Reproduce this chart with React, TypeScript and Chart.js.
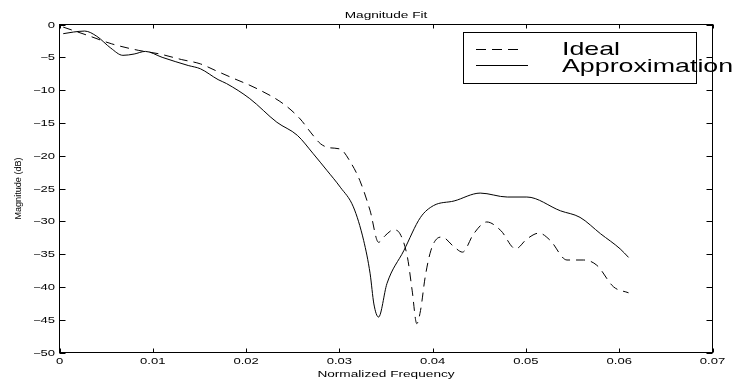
import { useEffect, useRef } from "react";
import { Chart, registerables } from "chart.js";

Chart.register(...registerables);

// ---- data ----
const idealFreq = [
  0.0004, 0.0031, 0.0056, 0.0085, 0.0106, 0.0131, 0.0151, 0.0167, 0.0183, 0.0212,
  0.024, 0.0258, 0.0269, 0.028, 0.029, 0.0301, 0.0312, 0.0322, 0.0333, 0.0342,
  0.0349, 0.0358, 0.0365, 0.0373, 0.0378, 0.0383, 0.0387, 0.0392, 0.0398, 0.0405,
  0.041, 0.0423, 0.0432, 0.0444, 0.0458, 0.0473, 0.0489, 0.0501, 0.0514, 0.0526,
  0.0544, 0.0562, 0.0576, 0.0594, 0.061,
];
const idealMag = [
  -0.4, -1.7, -2.95, -3.95, -4.45, -5.35, -6.0, -7.0, -8.0, -9.8,
  -12.1, -14.4, -16.4, -18.2, -18.8, -19.0, -21.0, -23.8, -28.4, -33.2,
  -32.2, -31.3, -31.9, -35.5, -40.5, -45.6, -43.6, -38.5, -34.5, -32.6,
  -32.4, -33.9, -34.7, -31.9, -30.1, -31.4, -34.2, -32.7, -31.8, -32.9,
  -35.9, -35.9, -36.7, -40.0, -40.9,
];
const approxFreq = [
  0.0004, 0.0015, 0.0027, 0.004, 0.0055, 0.0068, 0.008, 0.0092, 0.011, 0.0138,
  0.0151, 0.017, 0.0179, 0.0204, 0.0233, 0.0255, 0.0272, 0.0287, 0.0301, 0.0315,
  0.0326, 0.0333, 0.0337, 0.0342, 0.0351, 0.0369, 0.0387, 0.0401, 0.0423, 0.0451,
  0.048, 0.0501, 0.0537, 0.0558, 0.058, 0.0601, 0.061,
];
const approxMag = [
  -1.4, -1.15, -1.0, -1.8, -3.6, -4.7, -4.5, -4.1, -5.0, -6.25,
  -6.75, -8.4, -9.0, -11.3, -14.9, -16.9, -19.7, -22.3, -24.8, -27.8,
  -32.9, -38.0, -42.6, -44.6, -39.5, -34.5, -29.4, -27.6, -26.9, -25.7,
  -26.3, -26.3, -28.4, -29.4, -31.9, -34.2, -35.5,
];
const xTickValues = [0, 0.01, 0.02, 0.03, 0.04, 0.05, 0.06, 0.07];
const xTickLabels = ["0", "0.01", "0.02", "0.03", "0.04", "0.05", "0.06", "0.07"];
const yTickValues = [0, -5, -10, -15, -20, -25, -30, -35, -40, -45, -50];
const yTickLabels = ["0", "\u22125", "\u221210", "\u221215", "\u221220", "\u221225", "\u221230", "\u221235", "\u221240", "\u221245", "\u221250"];
const seriesNames = ["Ideal", "Approximation"];
const titleText = "Magnitude Fit";
const xTitle = "Normalized Frequency";
const yTitle = "Magnitude (dB)";

const FONT = '"Liberation Sans", Arial, Helvetica, sans-serif';

function drawText(
  ctx: CanvasRenderingContext2D,
  str: string,
  x: number,
  y: number,
  size: number,
  sx: number,
  align: CanvasTextAlign,
  rot = 0
) {
  ctx.save();
  ctx.translate(x, y);
  ctx.scale(sx, 1);
  if (rot) ctx.rotate(rot);
  ctx.font = `${size}px ${FONT}`;
  ctx.fillStyle = "#000";
  ctx.textAlign = align;
  ctx.textBaseline = "alphabetic";
  ctx.fillText(str, 0, 0);
  ctx.restore();
}

const DASH = [9, 6];

const framePlugin = {
  id: "matlabFrame",
  afterDraw(chart: any) {
    const { ctx, chartArea: a, scales } = chart;
    const xs = scales.x;
    const ys = scales.y;
    ctx.save();
    ctx.strokeStyle = "#000";
    ctx.lineWidth = 1;
    ctx.setLineDash([]);
    ctx.strokeRect(a.left, a.top, a.right - a.left, a.bottom - a.top);
    ctx.beginPath();
    xs.ticks.forEach((t: any) => {
      const px = Math.round(xs.getPixelForValue(t.value)) + 0.5;
      ctx.moveTo(px, a.bottom);
      ctx.lineTo(px, a.bottom - 4);
      ctx.moveTo(px, a.top);
      ctx.lineTo(px, a.top + 4);
    });
    ys.ticks.forEach((t: any) => {
      const py = Math.round(ys.getPixelForValue(t.value)) + 0.5;
      ctx.moveTo(a.left, py);
      ctx.lineTo(a.left + 6, py);
      ctx.moveTo(a.right, py);
      ctx.lineTo(a.right - 6, py);
    });
    ctx.stroke();

    xs.ticks.forEach((t: any) => {
      const px = xs.getPixelForValue(t.value);
      drawText(ctx, t.label, px, a.bottom + 11, 8.7, 1.5, "center");
    });
    ys.ticks.forEach((t: any) => {
      const py = ys.getPixelForValue(t.value);
      drawText(ctx, t.label, a.left - 4.5, py + 3.1, 8.7, 1.5, "right");
    });

    const cx = (a.left + a.right) / 2;
    drawText(ctx, titleText, cx, 18.3, 9.1, 1.5, "center");
    drawText(ctx, xTitle, cx, 377, 9.1, 1.5, "center");
    drawText(ctx, yTitle, 20.5, (a.top + a.bottom) / 2, 9.1, 1, "center", -Math.PI / 2);

    // legend
    const lx = 463.5, ly = 32.5, lw = 233, lh = 51;
    ctx.fillStyle = "#fff";
    ctx.fillRect(lx, ly, lw, lh);
    ctx.strokeRect(lx, ly, lw, lh);
    ctx.beginPath();
    ctx.setLineDash([10, 6]);
    ctx.moveTo(476, 49.5);
    ctx.lineTo(520, 49.5);
    ctx.stroke();
    ctx.setLineDash([]);
    ctx.beginPath();
    ctx.moveTo(476, 65.5);
    ctx.lineTo(528, 65.5);
    ctx.stroke();
    drawText(ctx, seriesNames[0], 562, 55, 18.6, 1.44, "left");
    drawText(ctx, seriesNames[1], 562, 71.7, 18.6, 1.44, "left");
    ctx.restore();
  },
};

export default function App() {
  const ref = useRef<HTMLCanvasElement | null>(null);
  useEffect(() => {
    if (!ref.current) return;
    const chart = new Chart(ref.current, {
      type: "line",
      data: {
        datasets: [
          {
            label: seriesNames[0],
            data: idealFreq.map((f, i) => ({ x: f, y: idealMag[i] })),
            borderColor: "#000",
            borderWidth: 1,
            borderDash: DASH,
            pointRadius: 0,
            fill: false,
            cubicInterpolationMode: "monotone",
          },
          {
            label: seriesNames[1],
            data: approxFreq.map((f, i) => ({ x: f, y: approxMag[i] })),
            borderColor: "#000",
            borderWidth: 1,
            pointRadius: 0,
            fill: false,
            cubicInterpolationMode: "monotone",
          },
        ],
      },
      options: {
        animation: false,
        responsive: false,
        devicePixelRatio: 1,
        layout: { padding: { top: 24.5, right: 38.5, left: 0, bottom: 0 } },
        plugins: {
          legend: { display: false },
          title: { display: false },
          tooltip: { enabled: false },
        },
        scales: {
          x: {
            type: "linear",
            min: 0,
            max: 0.07,
            grid: { display: false },
            border: { display: false },
            ticks: {
              display: false,
              callback: (_v: any, i: number) => xTickLabels[i],
            },
            afterBuildTicks: (s: any) => {
              s.ticks = xTickValues.map((v) => ({ value: v }));
            },
            afterFit: (s: any) => {
              s.height = 29.5;
            },
          },
          y: {
            type: "linear",
            min: -50,
            max: 0,
            grid: { display: false },
            border: { display: false },
            ticks: {
              display: false,
              callback: (_v: any, i: number) => yTickLabels[i],
            },
            afterBuildTicks: (s: any) => {
              s.ticks = yTickValues.map((v) => ({ value: v }));
            },
            afterFit: (s: any) => {
              s.width = 59.5;
            },
          },
        },
      },
      plugins: [framePlugin],
    });
    return () => chart.destroy();
  }, []);
  return (
    <div style={{ position: "fixed", left: 0, top: 0, width: 751, height: 382, background: "#fff" }}>
      <canvas ref={ref} width={751} height={382} style={{ display: "block", width: 751, height: 382 }} />
    </div>
  );
}
